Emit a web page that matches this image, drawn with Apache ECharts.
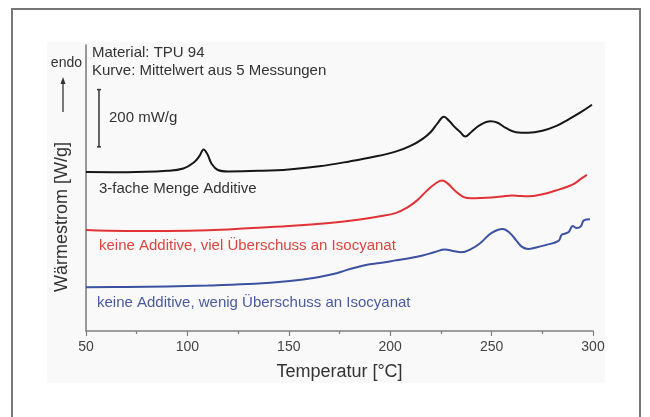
<!DOCTYPE html>
<html>
<head>
<meta charset="utf-8">
<script src="https://cdn.jsdelivr.net/npm/echarts@6/dist/echarts.min.js"></script>
<style>
html,body{margin:0;padding:0;background:#fff;}
#chart{width:650px;height:417px;}
</style>
</head>
<body>
<div id="chart"></div>
<script>
// Temperature axis ticks
const xTicks = [50, 100, 150, 200, 250, 300];

// Black: 3-fache Menge Additive (values in mW/g, arbitrary offset)
const tBlack = [50,70,90,98,103,106,108,110,112,115,120,135,150,165,180,192,203,210,216,220,223.5,226.5,229,232,234.5,237,240,244,249.5,253,257,262,268,275,282,288,294,299.5];
const vBlack = [556,555,560,568,588,612,635,616,584,563,558,560,565,576,593,609,628,647,672,696,728,749,735,712,696,680,696,719,733,728,710,695,693,700,717,740,765,791];

// Red: keine Additive, viel Überschuss an Isocyanat
const tRed = [50,70,90,110,130,150,170,185,195,203,208,213,218,222,225.4,228,232,236,240,245,250,255,260,264,268,275,282,288,291,294,297];
const vRed = [353,350,350,352,359,367,378,390,401,413,430,455,490,514,526,518,490,469,464,465,467,470,474,472,471,478,492,506,516,532,546];

// Blue: keine Additive, wenig Überschuss an Isocyanat
const tBlue = [50,70,90,110,130,145,155,165,172,178,183,188,195,203,210,216,222,227,231,235,240,244.5,250,255.5,259,262,265,268,272,277,283,284.5,286,288,290,292,294,295.5,298.5];
const vBlue = [153,154,156,159,164,171,178,189,199,212,222,231,238,247,255,264,276,285,280,275,287,308,343,357,343,318,294,287,292,301,315,336,340,346,367,360,366,387,391];

// Scale bar: 200 mW/g
const scaleBarT = 56.4;
const scaleBarFrom = 644;
const scaleBarLen = 200;

const seriesNames = ['3-fache Menge Additive', 'keine Additive, viel Überschuss an Isocyanat', 'keine Additive, wenig Überschuss an Isocyanat'];
const annotations = ['Material: TPU 94', 'Kurve: Mittelwert aus 5 Messungen'];

const FONT = '"Liberation Sans", Arial, Helvetica, sans-serif';
const zip = (t, v) => t.map((x, i) => [x, v[i]]);

const chart = echarts.init(document.getElementById('chart'), null, {renderer: 'canvas'});

const lineSeries = (name, t, v, color) => ({
  name, type: 'line', data: zip(t, v), showSymbol: false, symbol: 'none',
  smooth: 0.4,
  lineStyle: {color, width: 2}, z: 3, animation: false
});

const txt = (text, x, y, color, size, align) => ({
  type: 'text', x, y, z: 10,
  style: {text, fill: color, font: size + 'px ' + FONT, textAlign: align || 'left', textVerticalAlign: 'middle'}
});

chart.setOption({
  animation: false,
  backgroundColor: '#ffffff',
  grid: {left: 86, right: 57, top: 45, bottom: 86, containLabel: false},
  xAxis: {
    type: 'value', min: xTicks[0], max: xTicks[xTicks.length - 1], interval: 50,
    name: 'Temperatur [°C]', nameLocation: 'middle', nameGap: 32,
    nameTextStyle: {color: '#333', fontSize: 18, fontFamily: FONT},
    axisLine: {show: true, lineStyle: {color: '#808080', width: 1.5}},
    axisTick: {show: true, inside: false, length: 5, lineStyle: {color: '#808080', width: 1.2}},
    minorTick: {show: true, splitNumber: 2, length: 3, lineStyle: {color: '#808080', width: 1.2}},
    axisLabel: {color: '#444', fontSize: 14, fontFamily: FONT, margin: 9},
    splitLine: {show: false}
  },
  yAxis: {
    type: 'value', min: 0, max: 1000,
    axisLine: {show: true, lineStyle: {color: '#777', width: 1.5}},
    axisTick: {show: false}, axisLabel: {show: false}, splitLine: {show: false}
  },
  series: [
    lineSeries(seriesNames[0], tBlack, vBlack, '#161616'),
    lineSeries(seriesNames[1], tRed, vRed, '#e23236'),
    lineSeries(seriesNames[2], tBlue, vBlue, '#3a52a0'),
    {
      name: '200 mW/g', type: 'line',
      data: [[scaleBarT, scaleBarFrom], [scaleBarT, scaleBarFrom + scaleBarLen]],
      symbol: 'rect', symbolSize: [4, 1.5], showSymbol: true,
      itemStyle: {color: '#333'}, lineStyle: {color: '#333', width: 1.5}, z: 3
    }
  ],
  graphic: [
    {type: 'rect', z: -2, shape: {x: 12, y: 9, width: 628, height: 430},
     style: {fill: '#ffffff', stroke: '#777', lineWidth: 2}},
    {type: 'rect', z: -1, shape: {x: 47, y: 42, width: 558, height: 341},
     style: {fill: '#f9f9f9', stroke: null}},
    txt(annotations[0], 92, 53, '#333', 15),
    txt(annotations[1], 92, 71, '#333', 15),
    txt('endo', 82, 63, '#333', 14, 'right'),
    {type: 'line', z: 10, shape: {x1: 63, y1: 112, x2: 63, y2: 82}, style: {stroke: '#333', lineWidth: 1.3}},
    {type: 'polygon', z: 10, shape: {points: [[63, 77], [60.5, 84], [65.5, 84]]}, style: {fill: '#333'}},
    txt('200 mW/g', 109, 118, '#333', 15),
    txt(seriesNames[0], 99, 189, '#333', 15),
    txt(seriesNames[1], 99, 246, '#dc4540', 15),
    txt(seriesNames[2], 97, 303, '#4a5a9e', 15),
    {type: 'text', z: 10, x: 62, y: 217, rotation: Math.PI / 2,
     style: {text: 'Wärmestrom [W/g]', fill: '#333', font: '18px ' + FONT, textAlign: 'center', textVerticalAlign: 'middle'}}
  ]
});
</script>
</body>
</html>
